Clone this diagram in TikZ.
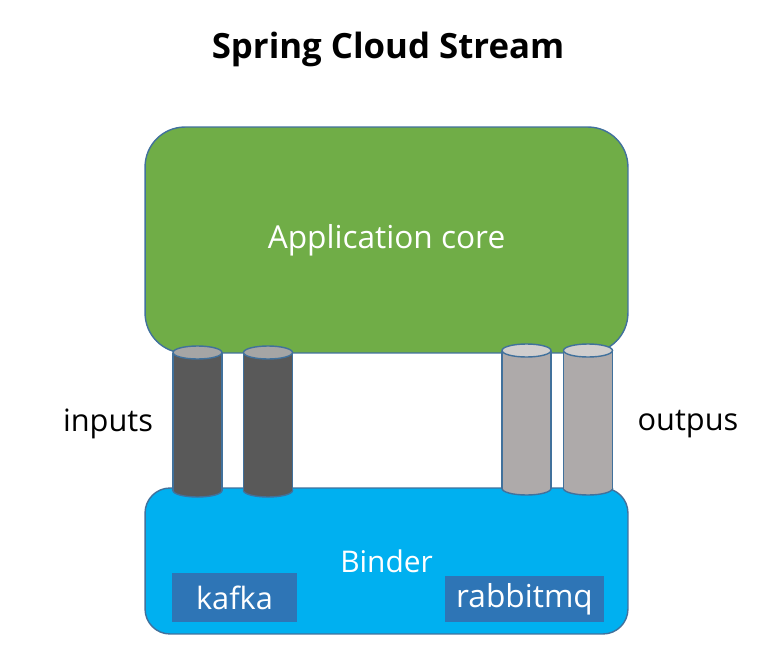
\documentclass[tikz,border=0pt]{standalone}
\usepackage{fontspec}
\setmainfont{Open Sans}
\usepackage{tikz}
\usetikzlibrary{positioning}

\definecolor{appgreen}{HTML}{70AD47}
\definecolor{bindblue}{HTML}{00B0F0}
\definecolor{mqblue}{HTML}{2E75B6}
\definecolor{edgeblue}{HTML}{41719C}
\definecolor{darkbody}{HTML}{595959}
\definecolor{darktop}{HTML}{A5A5A5}
\definecolor{lightbody}{HTML}{AEAAAA}
\definecolor{lighttop}{HTML}{D0CECE}

\begin{document}
\begin{tikzpicture}[x=0.02cm,y=-0.02cm,
    box/.style={draw=edgeblue, line width=0.8pt, inner sep=0pt, text=white},
    mq/.style={fill=mqblue, inner sep=0pt, text=white, font=\fontsize{17.5}{20}\selectfont},
    pipe/.style={draw=edgeblue, line width=0.8pt},
    side/.style={font=\fontsize{17.5}{20}\selectfont}]
    \useasboundingbox (0,0) rectangle (761,656);
    % 标题
    \node[font=\bfseries\fontsize{19.8}{24}\selectfont] (title) at (388,49) {Spring Cloud Stream};
    % 应用核心
    \node[box, fill=appgreen, rounded corners=0.8cm, minimum width=9.66cm, minimum height=4.52cm,
        font=\fontsize{18}{22}\selectfont] (app) at (386.5,240) {Application core};
    % Binder
    \node[box, fill=bindblue, rounded corners=0.5cm, minimum width=9.66cm, minimum height=2.92cm,
        font=\fontsize{17}{20}\selectfont] (binder) at (386.5,561) {Binder};
    \node[mq, minimum width=2.5cm, minimum height=0.98cm] (kafka) at (234.5,597.5) {kafka};
    \node[mq, minimum width=3.18cm, minimum height=0.92cm, font=\fontsize{18}{20}\selectfont] (rabbit) at (524.5,599) {rabbitmq};
    % 通道
    \foreach \cx/\ty/\by/\cbody/\ctop in {197.5/352.5/490.5/darkbody/darktop,
        268/352.5/490.5/darkbody/darktop,
        526.5/350.5/488.5/lightbody/lighttop,
        588/350.5/488.5/lightbody/lighttop} {
        \filldraw[pipe, fill=\cbody] (\cx,\by) ellipse [x radius=24.5, y radius=6.5];
        \fill[\cbody] (\cx-24.5,\ty) rectangle (\cx+24.5,\by);
        \draw[pipe] (\cx-24.5,\ty) -- (\cx-24.5,\by) (\cx+24.5,\ty) -- (\cx+24.5,\by);
        \filldraw[pipe, fill=\ctop] (\cx,\ty) ellipse [x radius=24.5, y radius=6.5];
    }
    % 标签
    \node[side] (inputs) at (108,424) {inputs};
    \node[side] (outpus) at (688,424) {outpus};
\end{tikzpicture}
\end{document}
